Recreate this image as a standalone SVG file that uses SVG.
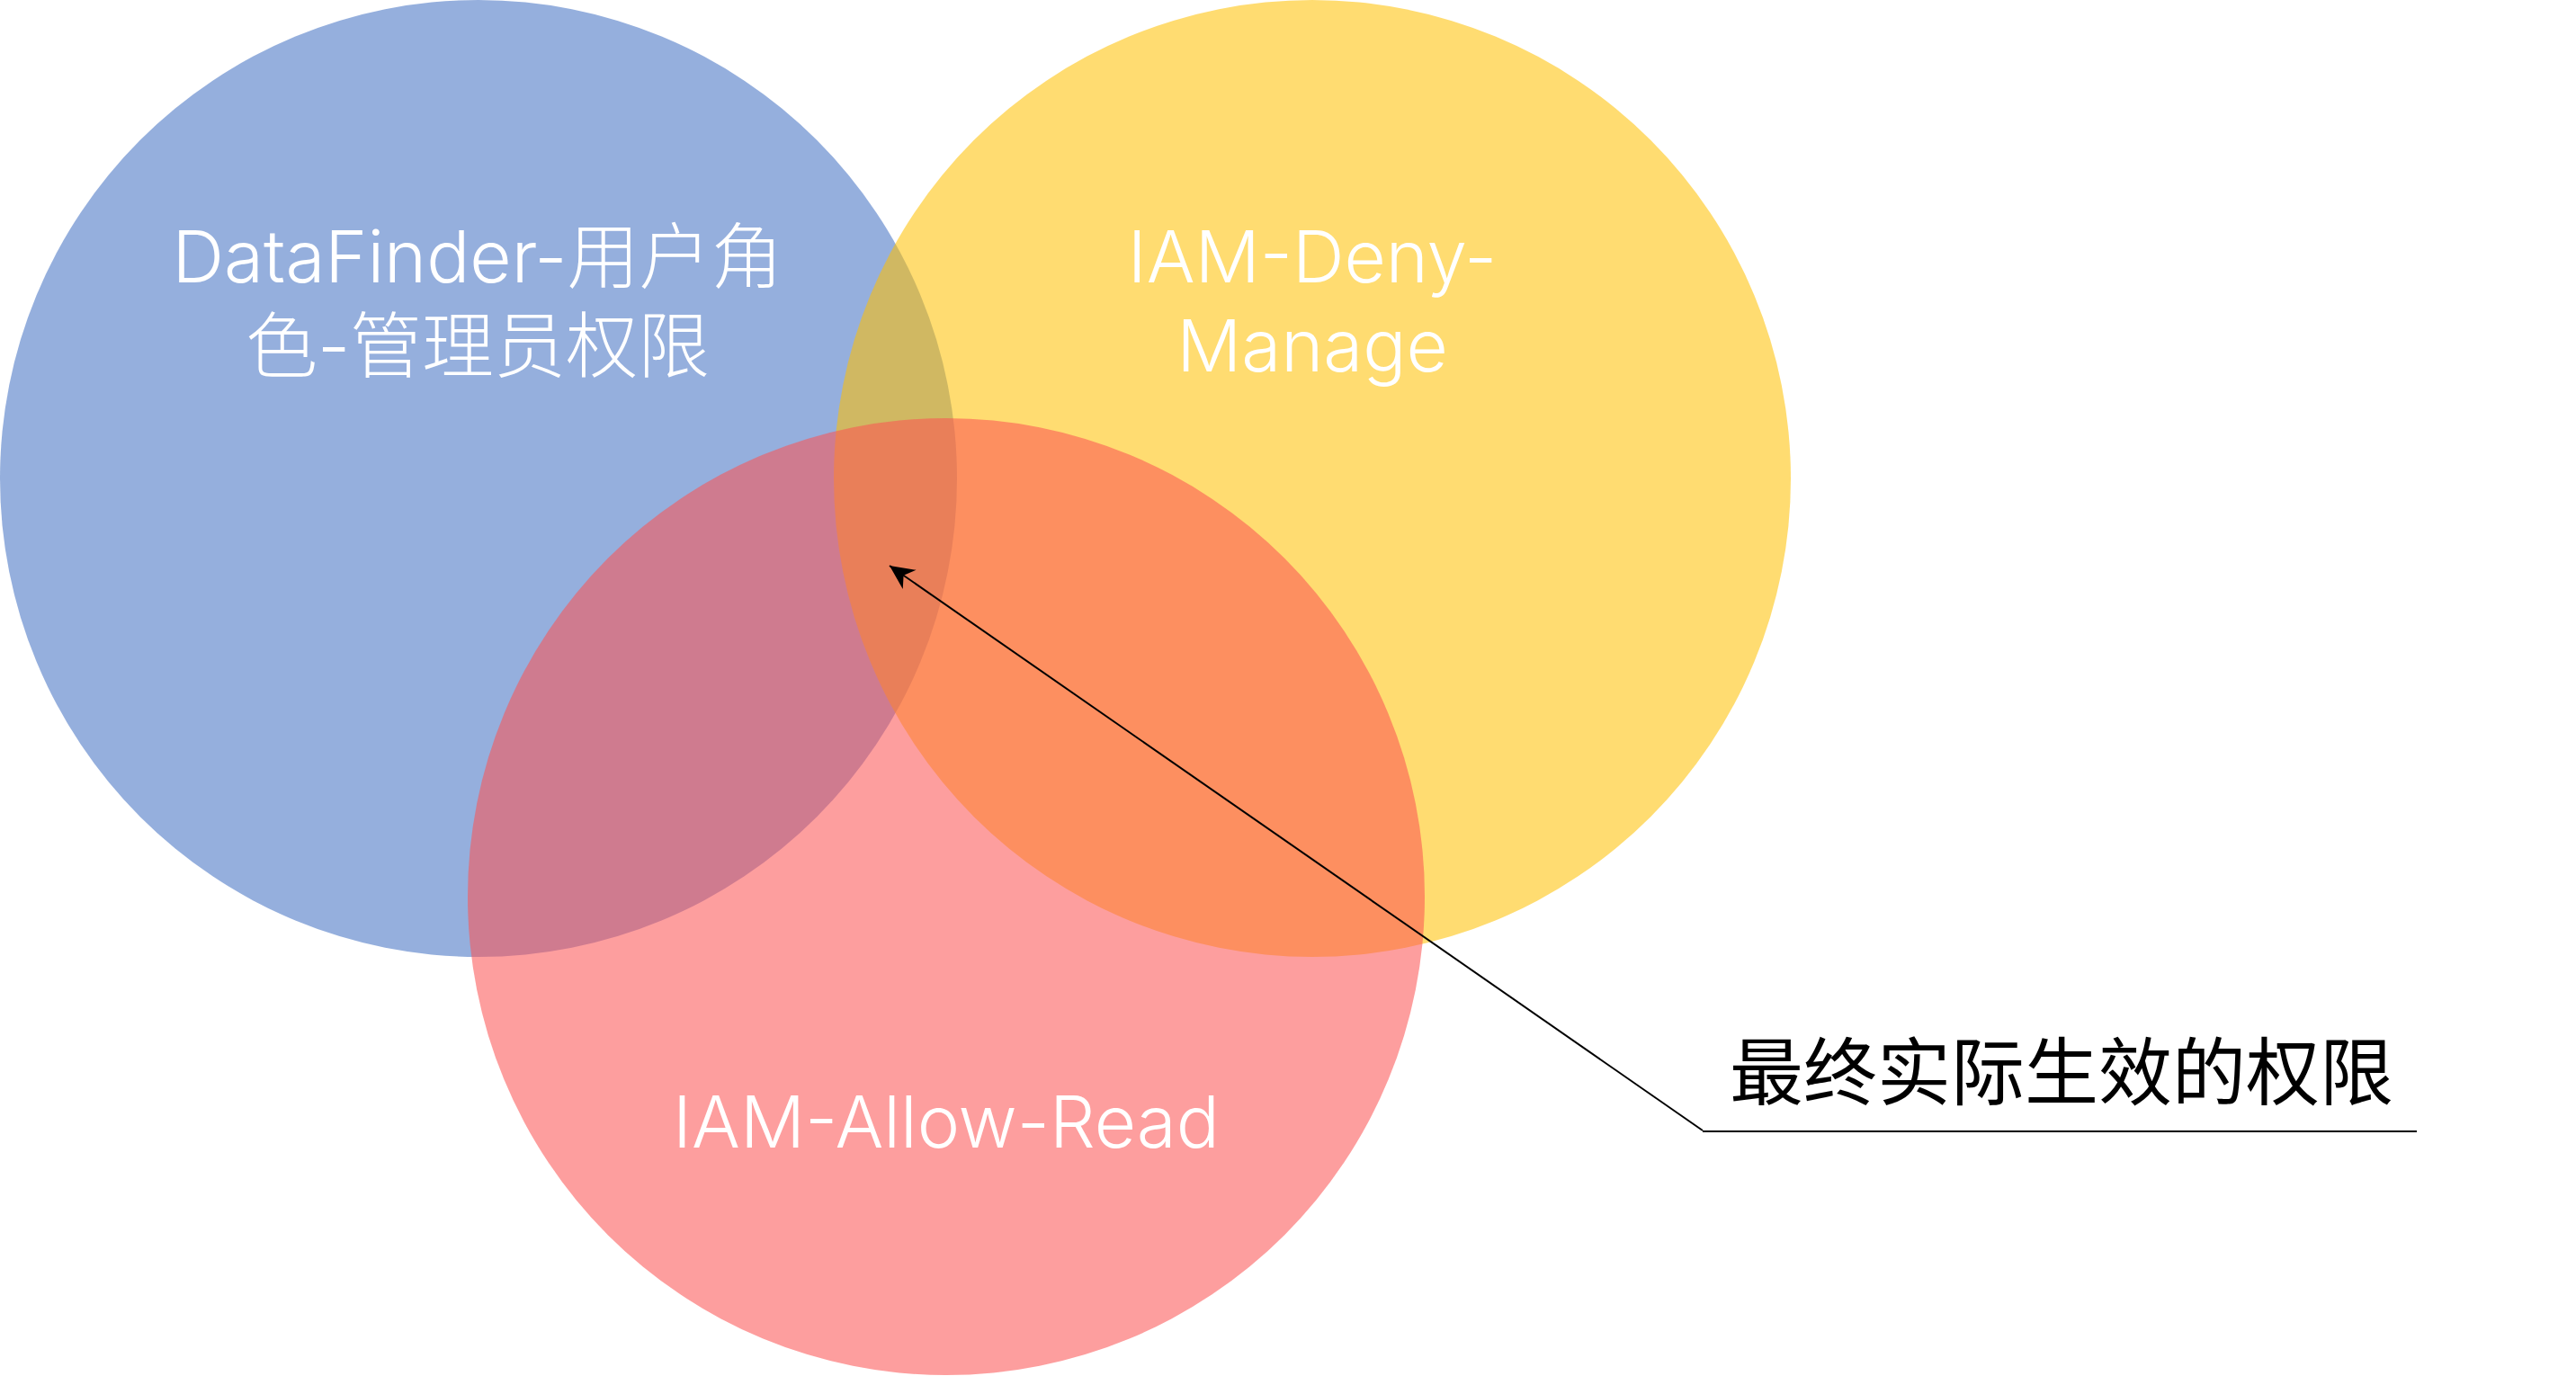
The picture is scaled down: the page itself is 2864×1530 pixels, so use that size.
<svg xmlns="http://www.w3.org/2000/svg" width="2864" height="1530" viewBox="0 0 2864 1530">
  <style>
    .set { stroke: none; }
    .blue { fill: #4472C4; fill-opacity: 0.567; }
    .yellow { fill: #FFC000; fill-opacity: 0.556; }
    .red { fill: #FB5454; fill-opacity: 0.566; }
    .lbl { font-family: Inter, "Liberation Sans", "Noto Sans CJK SC", sans-serif; font-weight: 300; font-size: 80px; fill: #FFFFFF; text-anchor: middle; }
    .note { font-family: "Noto Sans CJK SC", sans-serif; font-weight: 400; font-size: 82px; fill: #000000; text-anchor: middle; }
    .conn { stroke: #000000; stroke-width: 2; fill: none; }
  </style>
  <defs>
    <marker id="arrow" markerUnits="userSpaceOnUse" viewBox="-30 -15 32 30" markerWidth="32" markerHeight="30" refX="0" refY="0" orient="auto">
      <path d="M0,0 L-27,-13 L-19,0 L-27,13 Z" fill="#000000"/>
    </marker>
  </defs>
  <rect width="2864" height="1530" fill="#FFFFFF"/>
  <g id="node-datafinder">
    <circle class="set blue" cx="532" cy="532" r="532"/>
    <text class="lbl" x="531" y="314">DataFinder-用户角</text>
    <text class="lbl" x="531" y="413">色-管理员权限</text>
  </g>
  <g id="node-iam-deny">
    <circle class="set yellow" cx="1459" cy="532" r="532"/>
    <text class="lbl" x="1459" y="314">IAM-Deny-</text>
    <text class="lbl" x="1459" y="413">Manage</text>
  </g>
  <g id="node-iam-allow">
    <circle class="set red" cx="1052" cy="997" r="532"/>
    <text class="lbl" x="1052" y="1276">IAM-Allow-Read</text>
  </g>
  <g id="node-result">
    <text class="note" x="2292" y="1222">最终实际生效的权限</text>
    <line class="conn" x1="1893" y1="1258" x2="2687" y2="1258"/>
  </g>
  <g id="connectors">
    <line class="conn" x1="1893" y1="1257" x2="989" y2="629" marker-end="url(#arrow)"/>
  </g>
</svg>
